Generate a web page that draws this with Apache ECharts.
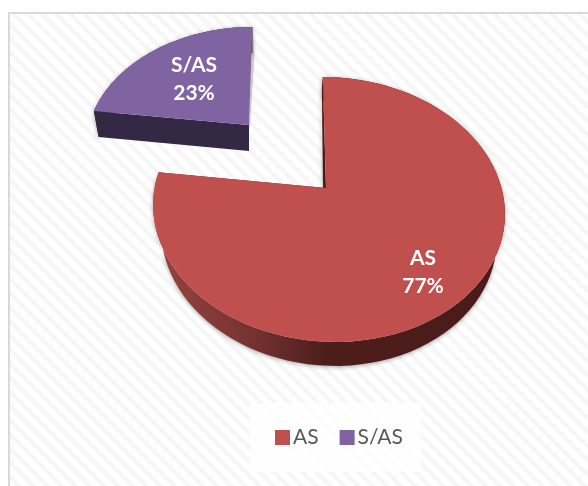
<!DOCTYPE html>
<html>
<head>
<meta charset="utf-8">
<style>
  html, body { margin: 0; padding: 0; background: #fff; }
  #frame {
    position: absolute; left: 8px; top: 12px; width: 580px; height: 474px; box-sizing: border-box;
    border-left: 2px solid #d9d9d9; border-top: 2px solid #d9d9d9;
    background: repeating-linear-gradient(45deg, #fff 0, #fff 3px, #f5f5f5 6px, #f5f5f5 7px, #fff 10px);
  }
  #main { position: absolute; left: 0; top: 0; width: 588px; height: 486px; }
</style>
</head>
<body>
<div id="frame"></div>
<div id="main"></div>
<script src="https://cdn.jsdelivr.net/npm/echarts@6/dist/echarts.min.js"></script>
<script>
const categories = ['AS', 'S/AS']
const shares = [77, 23]
const colorList = ['#C0504D', '#8064A2']

const FONT = 'Lato, "Open Sans", sans-serif'
const total = shares[0] + shares[1]
const tilt = 0.162

// one tilted disc per slice, the cut-out slice is pulled away up-left
const layouts = [
  { cx: 328, apexX: 326, cy: 188, rx: 173.5, ry: 129, lean: -6, depth: 24, shrink: 0.955, labelX: 423, labelY: 272,
    wall: new echarts.graphic.LinearGradient(155, 0, 500, 0, [
      { offset: 0, color: '#96433f' }, { offset: 0.25, color: '#7a3533' },
      { offset: 0.5, color: '#4d1d1b' }, { offset: 1, color: '#4a1b19' }
    ], true) },
  { cx: 249, apexX: 249, cy: 125, rx: 160, ry: 114, lean: 4, depth: 26, shrink: 0.97, labelX: 194, labelY: 79,
    wall: '#352845' }
]

function rimPoint(lay, deg, shrink, drop) {
  const a = deg * Math.PI / 180
  const x = Math.sin(a)
  const y = -Math.cos(a)
  const w = 1 - tilt * y
  return [
    lay.cx + (lay.rx * shrink * x) / w - (lay.lean * y) / w,
    lay.cy + (lay.ry * y) / w + drop
  ]
}

function arc(lay, from, to, shrink, drop) {
  const pts = []
  const n = 90
  for (let i = 0; i <= n; i++) {
    pts.push(rimPoint(lay, from + ((to - from) * i) / n, shrink, drop))
  }
  return pts
}

function renderSlice(params, api) {
  const idx = params.seriesIndex
  const lay = layouts[idx]
  const before = shares.slice(0, idx).reduce((s, v) => s + v, 0)
  const from = (before / total) * 360
  const to = ((before + api.value(0)) / total) * 360

  const topRim = arc(lay, from, to, 1, 0)
  const lowRim = arc(lay, from, to, lay.shrink, lay.depth)
  const last = topRim.length - 1
  const apex = [lay.apexX, lay.cy]
  const apexLow = [lay.apexX, lay.cy + lay.depth]
  const soft = { shadowBlur: 4, shadowColor: 'rgba(0,0,0,0.35)', shadowOffsetY: 1 }
  const walls = [
    { type: 'polygon', shape: { points: topRim.concat(lowRim.slice().reverse()) }, style: Object.assign({ fill: lay.wall }, soft) }
  ]
  if (idx === 0) {
    // thin dark strip along the vertical cut of the big slice
    walls.push({
      type: 'polygon',
      shape: { points: [apex, topRim[0], [topRim[0][0] - 1, topRim[0][1] + 11], [apex[0] - 3, apex[1]]] },
      style: Object.assign({ fill: '#4f1a19' }, soft)
    })
    walls.push({
      type: 'polygon',
      shape: { points: [apex, topRim[last], lowRim[last], apexLow] },
      style: { fill: '#5a1f1d' }
    })
  } else {
    // front wall, and only a grey shade at the back edge
    walls.push({
      type: 'polygon',
      shape: { points: [apex, topRim[0], lowRim[0], apexLow] },
      style: { fill: lay.wall }
    })
    walls.push({
      type: 'polygon',
      shape: { points: [apex, topRim[last], [topRim[last][0] + 2, topRim[last][1] + 26], [apex[0] + 1, apex[1] + 2]] },
      style: { fill: 'rgba(110,110,110,0.3)', shadowBlur: 3, shadowColor: 'rgba(110,110,110,0.4)' }
    })
  }

  return {
    type: 'group',
    children: walls.concat([
      { type: 'polygon', shape: { points: [apex].concat(topRim) }, style: { fill: colorList[idx] } },
      {
        type: 'text',
        x: lay.labelX,
        y: lay.labelY,
        style: {
          text: categories[idx] + '\n' + api.value(0) + '%',
          fill: '#fff',
          font: 'bold 21px ' + FONT,
          lineHeight: 28,
          align: 'center',
          verticalAlign: 'middle'
        }
      }
    ])
  }
}

const chartDom = document.getElementById('main')
const myChart = echarts.init(chartDom)
const seriesList = categories.map((name, i) => ({
  name: name,
  type: 'custom',
  coordinateSystem: 'none',
  renderItem: renderSlice,
  itemStyle: { color: colorList[i] },
  data: [[shares[i]]],
  silent: true,
  animation: false
}))

myChart.setOption({
  animation: false,
  legend: {
    data: categories,
    left: 250,
    top: 403,
    padding: [24, 18, 24, 25],
    backgroundColor: 'rgba(255,255,255,0.75)',
    icon: 'rect',
    itemWidth: 15,
    itemHeight: 15,
    itemGap: 21,
    textStyle: { color: '#595959', fontSize: 21, fontFamily: FONT, padding: [0, 0, 0, -2] }
  },
  series: seriesList
})
</script>
</body>
</html>
